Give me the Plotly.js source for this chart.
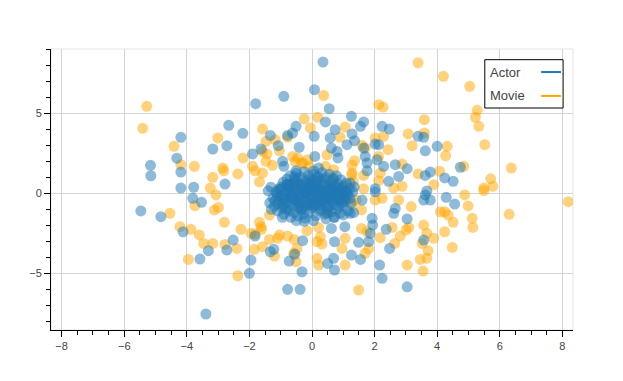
<!DOCTYPE html>
<html>
<head>
<meta charset="utf-8">
<script src="https://cdn.plot.ly/plotly-3.0.1.min.js"></script>
<style>
  html, body { margin: 0; padding: 0; background: #fff; }
  #graph { width: 623px; height: 381px; }
</style>
</head>
<body>
<div id="graph"></div>
<script>
// node positions
const actorX = [
  -4.19, -4.32, -5.16, -5.15, -4.19, -4.19,
  -1.8, -0.9, 0.08, -2.66, -2.21, -1.33, -1.08, -0.78, -0.62, -0.51, -0.41, -3.17, -2.72, -1.9, -1.63, -0.94, -0.9, -0.51, -2.78, -3.78, -1.31, -1.4,
  0.35, 0.55, 0.43, 1.26, 1.65, 1.55, 0.74, 0.07, 0.58, 1.28, 1.36, 1.12, 1.65, 2.24, 2.47, 2.02, 2.13, 3.39, 3.57, 3.62, 4.0, 0.62, 0.8, 0.83, 0.09, 1.7, 1.76, 2.08, 2.29, 2.66, 3.04, 1.76, 2.77, 2.45, 3.62, 3.78, 0.21, 1.22, 2.02, 3.67,
  4.74, 4.24, 4.51,
  -5.47, -4.83, -4.12,
  -3.81, -3.53, -3.31, -2.72, -2.52, -3.58, -2.0, -1.95, -3.39, -0.78, -0.38, -0.32, -1.82, -1.33, -1.22, -0.55, -0.73, -0.3,
  1.6, 2.02, 2.66, 2.61, 3.62, 3.57, 3.78, 3.04, 3.57, 3.04, 2.48, 2.37, 1.92, 1.94, 1.86, 1.81, 1.49, 1.55, 1.26, 0.72, 1.05, 0.62, 0.5, 0.69, 0.72, 2.16, 2.24, 1.33, 1.22, 0.72,
  4.29, 4.56,
  -1.25, -1.2, -1.15, -1.1, -1.05, -1.0, -0.98, -0.95, -0.92, -0.9,
  -0.85, -0.82, -0.8, -0.78, -0.75, -0.72, -0.7, -0.68, -0.65, -0.62,
  -0.6, -0.58, -0.55, -0.52, -0.5, -0.48, -0.45, -0.42, -0.4, -0.38,
  -0.35, -0.32, -0.3, -0.28, -0.25, -0.22, -0.2, -0.18, -0.15, -0.12,
  -0.1, -0.08, -0.05, -0.02, 0.0, 0.02, 0.05, 0.08, 0.1, 0.12,
  0.15, 0.18, 0.2, 0.22, 0.25, 0.28, 0.3, 0.32, 0.35, 0.38,
  0.4, 0.42, 0.45, 0.48, 0.5, 0.52, 0.55, 0.58, 0.6, 0.62,
  0.65, 0.68, 0.7, 0.72, 0.75, 0.78, 0.8, 0.82, 0.85, 0.88,
  0.9, 0.92, 0.95, 0.98, 1.0, 1.05, 1.08, 1.1, 1.15, 1.2,
  1.25, 1.3, 1.35,
  -0.4, -0.3, -0.2, -0.1, 0.0, 0.1, 0.2, 0.3, 0.4, -0.5, -0.6, 0.5, 0.6, -0.7, 0.7, -0.3, 0.3, -0.15, 0.15, -0.9, 0.95, -1.1, -0.8, 0.85, 0.0, 0.0,
  1.0, 1.15, 0.7, 0.45, -1.35, -1.3, -0.95, -0.5, -0.25, 0.05,
  -1.12, -1.02, -0.88, -0.76, -0.66, -0.54, -0.44, -0.34, -0.24, -0.14, -0.04, 0.06, 0.16, 0.26, 0.36, 0.46, 0.56, 0.66, 0.76, 0.86, 0.96, 1.06,
  -1.08, -0.96, -0.84, -0.71, -0.6, -0.47, -0.36, -0.23, -0.11, 0.03, 0.14, 0.27, 0.39, 0.51, 0.63, 0.74, 0.87, 0.99, 1.12,
  -0.9, -0.77, -0.63, -0.49, -0.37, -0.21, -0.07, 0.07, 0.21, 0.34, 0.47, 0.61, 0.79, 0.93,
  -0.72, -0.56, -0.41, -0.26, -0.09, 0.04, 0.19, 0.33, 0.52, 0.68, 0.82,
  -1.18, -1.06, -0.93, -0.81, -0.69, -0.57, -0.43, -0.31, -0.17, -0.03, 0.11, 0.24, 0.37, 0.53, 0.67, 0.81, 0.94, 1.08, 1.22
];
const actorY = [
  3.5, 2.2, 1.75, 1.1, 1.33, 0.33,
  5.6, 6.06, 6.48, 4.25, 3.75, 3.62, 2.98, 3.62, 3.77, 4.19, 2.88, 2.77, 2.98, 2.46, 2.77, 2.0, 1.69, 1.41, 0.58, 0.38, 0.38, 0.16,
  8.2, 5.29, 4.46, 4.81, 4.46, 4.19, 3.98, 3.56, 3.46, 3.71, 3.29, 3.04, 2.83, 4.19, 4.02, 3.08, 3.04, 3.56, 3.5, 2.66, 2.94, 2.83, 2.62, 2.21, 2.31, 2.31, 1.89, 2.1, 1.69, 1.79, 1.54, 1.41, 1.06, 0.75, 1.12, 1.33, 1.58, 0.64, 0.29, 0.15,
  1.63, 0.96, 0.75,
  -1.1, -1.46, -2.4,
  -0.31, -0.56, -3.58, -3.54, -2.92, -4.11, -5.0, -4.17, -7.54, -6.0, -6.0, -4.9, -2.67, -3.65, -3.5, -3.8, -4.23, -2.96,
  -0.42, 0.1, -0.94, -1.25, -0.1, -0.42, -0.42, -1.6, -2.92, -5.84, -3.44, -2.25, -1.56, -1.98, -2.5, -3.02, -3.06, -4.13, -3.86, -3.02, -2.08, -2.19, -4.38, -4.06, -4.79, -4.48, -5.31, -1.21, -1.25, -1.5,
  -0.25, -0.67,
  -0.3, -0.8, 0.1, -1.1, -0.5, 0.4, -0.2, -0.9, 0.7, -1.3,
  0.1, -0.6, 0.9, -1.0, 0.35, -0.3, 1.1, -1.5, 0.6, -0.8,
  0.0, -1.2, 0.85, -0.45, 1.25, 0.25, -1.4, -0.1, 0.55, -0.7,
  1.0, -1.0, 0.3, -0.35, 1.35, -1.55, 0.7, 0.0, -0.6, 1.1,
  -1.2, 0.45, -0.25, 0.9, -0.9, 0.15, 1.4, -0.5, 0.6, -1.4,
  -0.05, 1.05, -0.8, 0.35, -1.1, 0.8, -0.3, 1.3, 0.05, -0.65,
  0.55, -1.3, 1.0, -0.15, 0.3, -0.9, 1.2, -0.45, 0.7, -1.15,
  0.1, 0.95, -0.7, 0.4, -0.2, 1.1, -1.0, 0.6, -0.4, 0.2,
  -1.25, 0.85, -0.1, 0.45, -0.75, 0.15, -0.45, 0.65, -0.1, 0.3,
  -0.6, 0.1, 0.4,
  -0.2, 0.1, -0.3, 0.2, -0.1, 0.25, -0.2, 0.15, -0.35, -0.6, 0.4, 0.0, -0.25, -0.1, 0.2, -0.9, -1.0, 0.8, 0.75, -0.4, 0.3, -0.2, 0.55, -0.85, 0.5, -0.55,
  -1.35, -1.1, -1.5, -1.6, -0.6, -1.0, -1.5, -1.7, -1.75, -1.7,
  -0.05, 0.22, -0.35, 0.48, -0.15, 0.62, -0.5, 0.38, -0.8, 0.05, 0.72, -0.42, 0.28, -0.7, 0.9, -0.25, 0.45, -0.55, 0.12, -0.35, 0.0, -0.25,
  -0.65, 0.3, -0.95, 0.2, -0.3, 0.95, -0.55, 0.05, 0.6, -0.75, 0.42, -0.5, 0.18, -1.0, 0.5, -0.35, 0.0, -0.55, 0.05,
  -0.15, 0.5, -0.5, 0.75, -1.05, 0.35, -0.7, 1.2, -0.45, 0.6, -1.2, 0.25, 0.45, -0.6,
  -1.1, 1.05, 0.1, -1.3, 0.3, -0.8, 1.0, -0.4, -0.75, 0.85, 0.0,
  -0.45, 0.25, -0.7, 0.55, -0.25, 0.15, -0.85, 0.5, -0.55, 0.35, -0.7, 0.1, -0.4, 0.2, -0.3, -0.1, 0.2, 0.1, -0.3
];
const movieX = [
  -5.28, -5.41, -4.41, -4.19,
  -0.25, -0.05, -1.58, -1.18, -1.47, -0.78, -3.01, -2.2, -1.58, -1.44, -1.47, -1.26, -1.04, -0.62, -0.46, -0.3, -0.14, -0.09, -3.76, -2.85, -2.82, -2.37, -3.17, -1.9, -1.82, -1.58, -1.68, -3.25,
  3.39, 4.2, 0.37, 2.13, 2.27, 0.18, 1.06, 0.9, 1.6, 1.7, 2.29, 2.02, 2.43, 3.07, 3.2, 3.59, 3.59, 0.48, 1.36, 2.13, 2.88, 1.28, 1.28, 1.65, 2.18, 2.13, 3.39, 4.08, 3.89, 0.43, 0.69, 1.06, 1.65, 2.61, 2.88,
  5.04, 5.28, 5.22, 5.33, 4.32, 4.27, 5.52, 4.85, 6.37, 5.71, 5.78, 5.49,
  -4.54, -4.22,
  -3.07, -3.74, -3.12, -2.99, -2.8, -2.27, -3.87, -3.6, -3.46, -3.17, -2.78, -2.4, -3.95, -2.37, -1.68, -1.63, -1.36, -1.95, -1.82, -1.61, -1.84, -1.58, -1.36, -1.04, -1.1, -1.2, -0.78, -0.57, -0.48, -0.58, -0.51, -0.16,
  2.02, 2.24, 2.77, 3.17, 4.1, 3.57, 3.67, 3.89, 3.52, 3.71, 3.67, 3.46, 3.55, 3.04, 3.09, 3.01, 2.82, 2.64, 2.56, 2.18, 1.76, 1.58, 1.81, 1.7, 0.96, 1.06, 1.06, 0.21, 0.16, 0.32, 0.16, 0.21, 1.49, 0.5, 1.58, 1.28, 1.41, 0.27,
  4.88, 5.49, 4.99, 4.24, 4.35, 4.51, 5.12, 5.14, 4.24, 4.48, 6.3, 8.19,
  -0.54, -0.33, 1.27, 1.32, 0.15, 0.6, 1.0, -0.9
];
const movieY = [
  5.44, 4.06, 2.94, 1.79,
  4.66, 4.08, 4.02, 3.35, 3.25, 3.5, 3.46, 2.21, 2.62, 2.46, 2.0, 1.75, 2.66, 2.31, 2.21, 1.89, 2.1, 1.69, 1.69, 1.58, 1.41, 1.21, 1.0, 1.69, 1.41, 1.27, 0.71, 0.33,
  8.16, 7.31, 6.12, 5.54, 5.39, 4.75, 4.14, 3.5, 3.0, 2.83, 3.56, 3.46, 2.73, 3.71, 2.98, 4.6, 3.77, 2.41, 2.04, 2.31, 1.83, 1.75, 1.27, 1.12, 1.27, 0.79, 1.21, 1.38, 0.54, 1.69, 1.48, 0.54, 0.29, 0.33, 0.44,
  6.69, 5.19, 4.75, 4.19, 2.94, 2.35, 3.04, 1.69, 1.58, 0.91, 0.44, 0.33,
  -1.25, -2.08,
  -0.1, -0.77, -1.04, -0.88, -1.81, -2.25, -2.25, -2.6, -3.13, -3.13, -3.19, -3.44, -4.13, -5.15, -1.81, -2.08, -1.36, -2.5, -2.54, -2.25, -3.5, -3.33, -2.88, -2.6, -2.81, -3.92, -2.67, -2.88, -3.44, -3.75, -4.27, -2.33,
  -0.42, -0.31, -0.42, -0.83, -1.15, -1.98, -2.5, -2.81, -3.13, -3.58, -4.06, -4.13, -4.86, -4.48, -2.13, -2.29, -2.67, -3.13, -2.13, -2.77, -2.4, -2.19, -3.44, -3.75, -3.44, -2.81, -4.48, -2.13, -3.02, -3.17, -4.06, -4.48, -6.04, -1.25, -1.04, -0.73, -0.42, -2.71,
  -0.1, 0.17, -0.79, -1.15, -1.36, -1.81, -1.56, -2.13, -2.4, -3.38, -1.31, -0.52,
  1.98, 1.91, 1.14, 0.73, 0.1, 0.9, -0.4, -0.8
];
const legendNames = ['Actor', 'Movie'];
const legendColors = ['#1f77b4', '#ffa500'];

const chart = document.getElementById('graph');

const data = [
  {
    x: movieX, y: movieY, type: 'scatter', mode: 'markers', name: 'Movie',
    marker: {size: 11, color: 'rgba(255,165,0,0.5)', line: {width: 0}},
    showlegend: false, hoverinfo: 'skip'
  },
  {
    x: actorX, y: actorY, type: 'scatter', mode: 'markers', name: 'Actor',
    marker: {size: 11, color: 'rgba(31,119,180,0.5)', line: {width: 0}},
    showlegend: false, hoverinfo: 'skip'
  }
];

const axisStyle = {
  showline: true, linecolor: '#000', linewidth: 1,
  ticks: 'outside', ticklen: 6, tickcolor: '#000', tickwidth: 1,
  showgrid: true, gridcolor: '#d4d4d4', gridwidth: 1,
  zeroline: false,
  tickfont: {family: 'Liberation Sans, Arial, sans-serif', size: 11, color: '#444'}
};

// bokeh-like legend: label first, line glyph on the right
const shapes = [
  {type: 'rect', xref: 'paper', yref: 'paper', x0: 0, x1: 1, y0: 0, y1: 1,
   line: {color: '#e5e5e5', width: 1}, layer: 'below'},
  {type: 'rect', xref: 'paper', yref: 'paper', x0: 0.831, x1: 0.981, y0: 0.79, y1: 0.962,
   fillcolor: '#fff', line: {color: '#000', width: 1}}
];
const annotations = [];
const rowY = [0.918, 0.833];
legendNames.forEach((name, i) => {
  annotations.push({
    xref: 'paper', yref: 'paper', x: 0.837, y: rowY[i], xanchor: 'left', yanchor: 'middle',
    text: name, showarrow: false,
    font: {family: 'Liberation Sans, Arial, sans-serif', size: 13, color: '#444'}
  });
  shapes.push({type: 'line', xref: 'paper', yref: 'paper', x0: 0.939, x1: 0.977, y0: rowY[i], y1: rowY[i],
    line: {color: legendColors[i], width: 2}});
});

const layout = {
  width: 623, height: 381,
  margin: {l: 51, r: 50, t: 49, b: 51},
  paper_bgcolor: '#fff', plot_bgcolor: '#fff',
  showlegend: false,
  xaxis: Object.assign({}, axisStyle, {
    range: [-8.34, 8.34], dtick: 2, tick0: 0,
    minor: {dtick: 0.5, ticklen: 4, tickcolor: '#000', ticks: 'outside', showgrid: false}
  }),
  yaxis: Object.assign({}, axisStyle, {
    range: [-8.54, 9.02], dtick: 5, tick0: 0,
    minor: {dtick: 1, ticklen: 4, tickcolor: '#000', ticks: 'outside', showgrid: false}
  }),
  shapes: shapes,
  annotations: annotations
};

Plotly.newPlot(chart, data, layout, {displayModeBar: false, staticPlot: true});
</script>
</body>
</html>
